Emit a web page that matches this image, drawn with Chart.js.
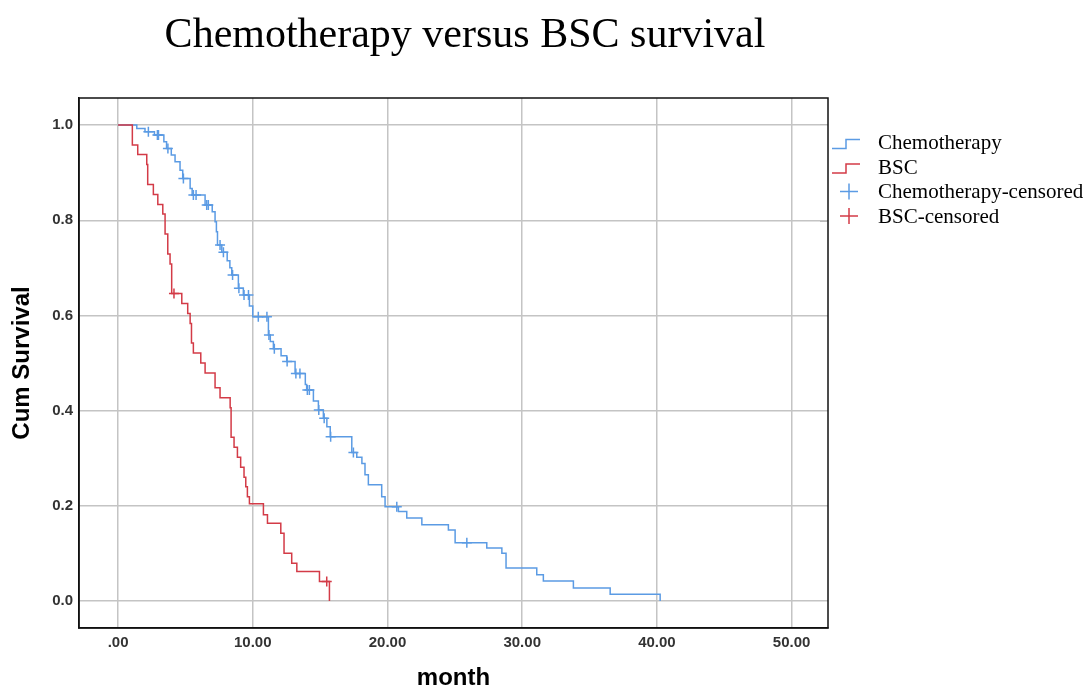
<!DOCTYPE html>
<html>
<head>
<meta charset="utf-8">
<script src="https://cdn.jsdelivr.net/npm/chart.js@4.4.0/dist/chart.umd.min.js"></script>
<style>
  html, body { margin: 0; padding: 0; background: #fff; }
  #wrap { width: 1090px; height: 690px; }
</style>
</head>
<body>
<div id="wrap"><canvas id="km" width="1090" height="690"></canvas></div>
<script>
// Kaplan-Meier steps: time (month) and cumulative survival after each drop
const chemoTime = [0, 1.39, 2.0, 2.7, 3.4, 3.6, 3.95, 4.23, 4.6, 4.8, 5.35, 5.5, 6.46, 6.99, 7.2, 7.3, 7.38, 7.7, 8.1, 8.3, 8.44,
  8.93, 9.3, 9.75, 10.0, 11.16, 11.3, 11.53, 12.1, 12.52, 13.14, 13.9, 14.0, 14.5, 14.87, 15.24, 15.5, 15.75,
  17.35, 17.72, 18.1, 18.33, 18.58, 19.57, 19.82, 20.81, 21.43, 22.55, 24.52, 25.02, 27.37, 28.49, 28.8,
  31.08, 31.57, 33.8, 36.53, 40.24];
const chemoSurv = [1.0, 0.993, 0.986, 0.979, 0.965, 0.951, 0.937, 0.923, 0.905, 0.888, 0.867, 0.853, 0.832, 0.818, 0.797, 0.776, 0.748, 0.733, 0.715, 0.70, 0.685,
  0.657, 0.643, 0.62, 0.597, 0.559, 0.545, 0.53, 0.515, 0.503, 0.478, 0.455, 0.443, 0.42, 0.401, 0.384, 0.366, 0.345,
  0.312, 0.302, 0.289, 0.265, 0.244, 0.219, 0.198, 0.188, 0.174, 0.16, 0.149, 0.122, 0.111, 0.10, 0.069,
  0.055, 0.042, 0.027, 0.014, 0.0];
const chemoCensored = [2.25, 2.92, 3.0, 3.7, 4.85, 5.59, 5.79, 6.58, 6.7, 7.57, 7.82, 8.5, 8.97, 9.35, 9.68,
  10.41, 11.05, 11.2, 11.6, 12.55, 13.2, 13.5, 14.05, 14.2, 14.9, 15.3, 15.78, 17.47, 20.69, 25.89];

const bscTime = [0, 1.06, 1.46, 2.13, 2.2, 2.62, 2.95, 3.32, 3.49, 3.69, 3.86, 3.98, 4.73, 5.17, 5.35, 5.45, 5.59,
  6.14, 6.46, 7.2, 7.57, 8.32, 8.39, 8.61, 8.86, 9.1, 9.35, 9.48, 9.6, 9.75, 10.79, 11.09, 12.08, 12.32,
  12.89, 13.27, 14.95, 15.69];
const bscSurv = [1.0, 0.958, 0.938, 0.917, 0.875, 0.854, 0.833, 0.813, 0.771, 0.729, 0.708, 0.646, 0.625, 0.604, 0.583, 0.542, 0.521,
  0.50, 0.479, 0.448, 0.427, 0.406, 0.344, 0.323, 0.302, 0.281, 0.26, 0.24, 0.219, 0.204, 0.181, 0.163, 0.142, 0.10,
  0.079, 0.062, 0.041, 0.0];
const bscCensored = [4.15, 15.49];

const xTicks = [0, 10, 20, 30, 40, 50];
const xTickLabels = ['.00', '10.00', '20.00', '30.00', '40.00', '50.00'];
const yTicks = [0, 0.2, 0.4, 0.6, 0.8, 1.0];
const yTickLabels = ['0.0', '0.2', '0.4', '0.6', '0.8', '1.0'];
const seriesNames = ['Chemotherapy', 'BSC', 'Chemotherapy-censored', 'BSC-censored'];

const blue = '#5b9be4';
const red = '#d33b47';

// survival value of a step curve at time t (used to sit the censor marks on the curve)
function survAt(times, surv, t) {
  let s = surv[0];
  for (let i = 0; i < times.length; i++) if (times[i] <= t) s = surv[i];
  return s;
}
const toPts = (times, surv) => times.map((t, i) => ({ x: t, y: surv[i] }));
const censorPts = (cens, times, surv) => cens.map(t => ({ x: t, y: survAt(times, surv, t) }));

const tickFont = { family: 'Liberation Sans', weight: 'bold', size: 15 };
const axisTitleFont = { family: 'Liberation Sans', weight: 'bold', size: 24, lineHeight: 1 };

// title, frame and legend drawn on top
const decor = {
  id: 'decor',
  afterDraw(chart) {
    const ctx = chart.ctx;
    const a = chart.chartArea;
    ctx.save();
    ctx.strokeStyle = '#111';
    ctx.lineWidth = 1.5;
    ctx.strokeRect(a.left, a.top, a.right - a.left, a.bottom - a.top);

    ctx.fillStyle = '#000';
    ctx.font = '42px "Liberation Serif"';
    ctx.textAlign = 'center';
    ctx.textBaseline = 'alphabetic';
    ctx.fillText('Chemotherapy versus BSC survival', 465, 47);

    // legend
    const rows = [142.5, 167, 191.5, 216];
    const cols = [blue, red, blue, red];
    ctx.strokeStyle = '#bbb';
    ctx.lineWidth = 1;
    ctx.beginPath();
    ctx.moveTo(820, 124.5); ctx.lineTo(827, 124.5);
    ctx.moveTo(820, 221.5); ctx.lineTo(827, 221.5);
    ctx.stroke();
    ctx.font = '21px "Liberation Serif"';
    ctx.textAlign = 'left';
    ctx.textBaseline = 'middle';
    seriesNames.forEach((name, i) => {
      const y = rows[i];
      ctx.strokeStyle = cols[i];
      ctx.lineWidth = 1.5;
      ctx.beginPath();
      if (i < 2) {
        ctx.moveTo(832, y + 6); ctx.lineTo(846, y + 6);
        ctx.lineTo(846, y - 3); ctx.lineTo(860, y - 3);
      } else {
        ctx.moveTo(840, y); ctx.lineTo(858, y);
        ctx.moveTo(849, y - 8); ctx.lineTo(849, y + 8);
      }
      ctx.stroke();
      ctx.fillStyle = '#000';
      ctx.fillText(name, 878, y + 1);
    });
    ctx.restore();
  }
};

new Chart(document.getElementById('km'), {
  type: 'line',
  data: {
    datasets: [
      { label: seriesNames[2], data: censorPts(chemoCensored, chemoTime, chemoSurv), showLine: false,
        pointStyle: 'cross', pointRadius: 5, pointBorderWidth: 1.5, pointBorderColor: blue, borderColor: blue },
      { label: seriesNames[3], data: censorPts(bscCensored, bscTime, bscSurv), showLine: false,
        pointStyle: 'cross', pointRadius: 5, pointBorderWidth: 1.5, pointBorderColor: red, borderColor: red },
      { label: seriesNames[1], data: toPts(bscTime, bscSurv), stepped: 'before', borderColor: red,
        borderWidth: 1.5, pointRadius: 0, fill: false },
      { label: seriesNames[0], data: toPts(chemoTime, chemoSurv), stepped: 'before', borderColor: blue,
        borderWidth: 1.5, pointRadius: 0, fill: false }
    ]
  },
  options: {
    responsive: false,
    animation: false,
    devicePixelRatio: 1,
    layout: { padding: { left: 0, top: 98, right: 262, bottom: 0 } },
    plugins: { legend: { display: false }, tooltip: { enabled: false } },
    scales: {
      x: {
        type: 'linear', min: -2.9, max: 52.7,
        afterBuildTicks: s => { s.ticks = xTicks.map(v => ({ value: v })); },
        afterFit: s => { s.height = 62; },
        ticks: { callback: (v, i) => xTickLabels[i], font: tickFont, color: '#333', padding: 6, maxRotation: 0, autoSkip: false },
        grid: { color: '#c4c4c4', lineWidth: 1.5, drawTicks: false },
        border: { display: true, color: '#111', width: 1.5 },
        title: { display: true, text: 'month', color: '#000', font: axisTitleFont, padding: { top: 0, bottom: 0 } }
      },
      y: {
        type: 'linear', min: -0.057, max: 1.057,
        afterBuildTicks: s => { s.ticks = yTicks.map(v => ({ value: v })); },
        afterFit: s => { s.width = 79; },
        ticks: { callback: (v, i) => yTickLabels[i], font: tickFont, color: '#333', padding: 6, autoSkip: false },
        grid: { color: '#c4c4c4', lineWidth: 1.5, drawTicks: false },
        border: { display: true, color: '#111', width: 1.5 },
        title: { display: true, text: 'Cum Survival', color: '#000', font: axisTitleFont, padding: { top: 10, bottom: 0 } }
      }
    }
  },
  plugins: [decor]
});
</script>
</body>
</html>
